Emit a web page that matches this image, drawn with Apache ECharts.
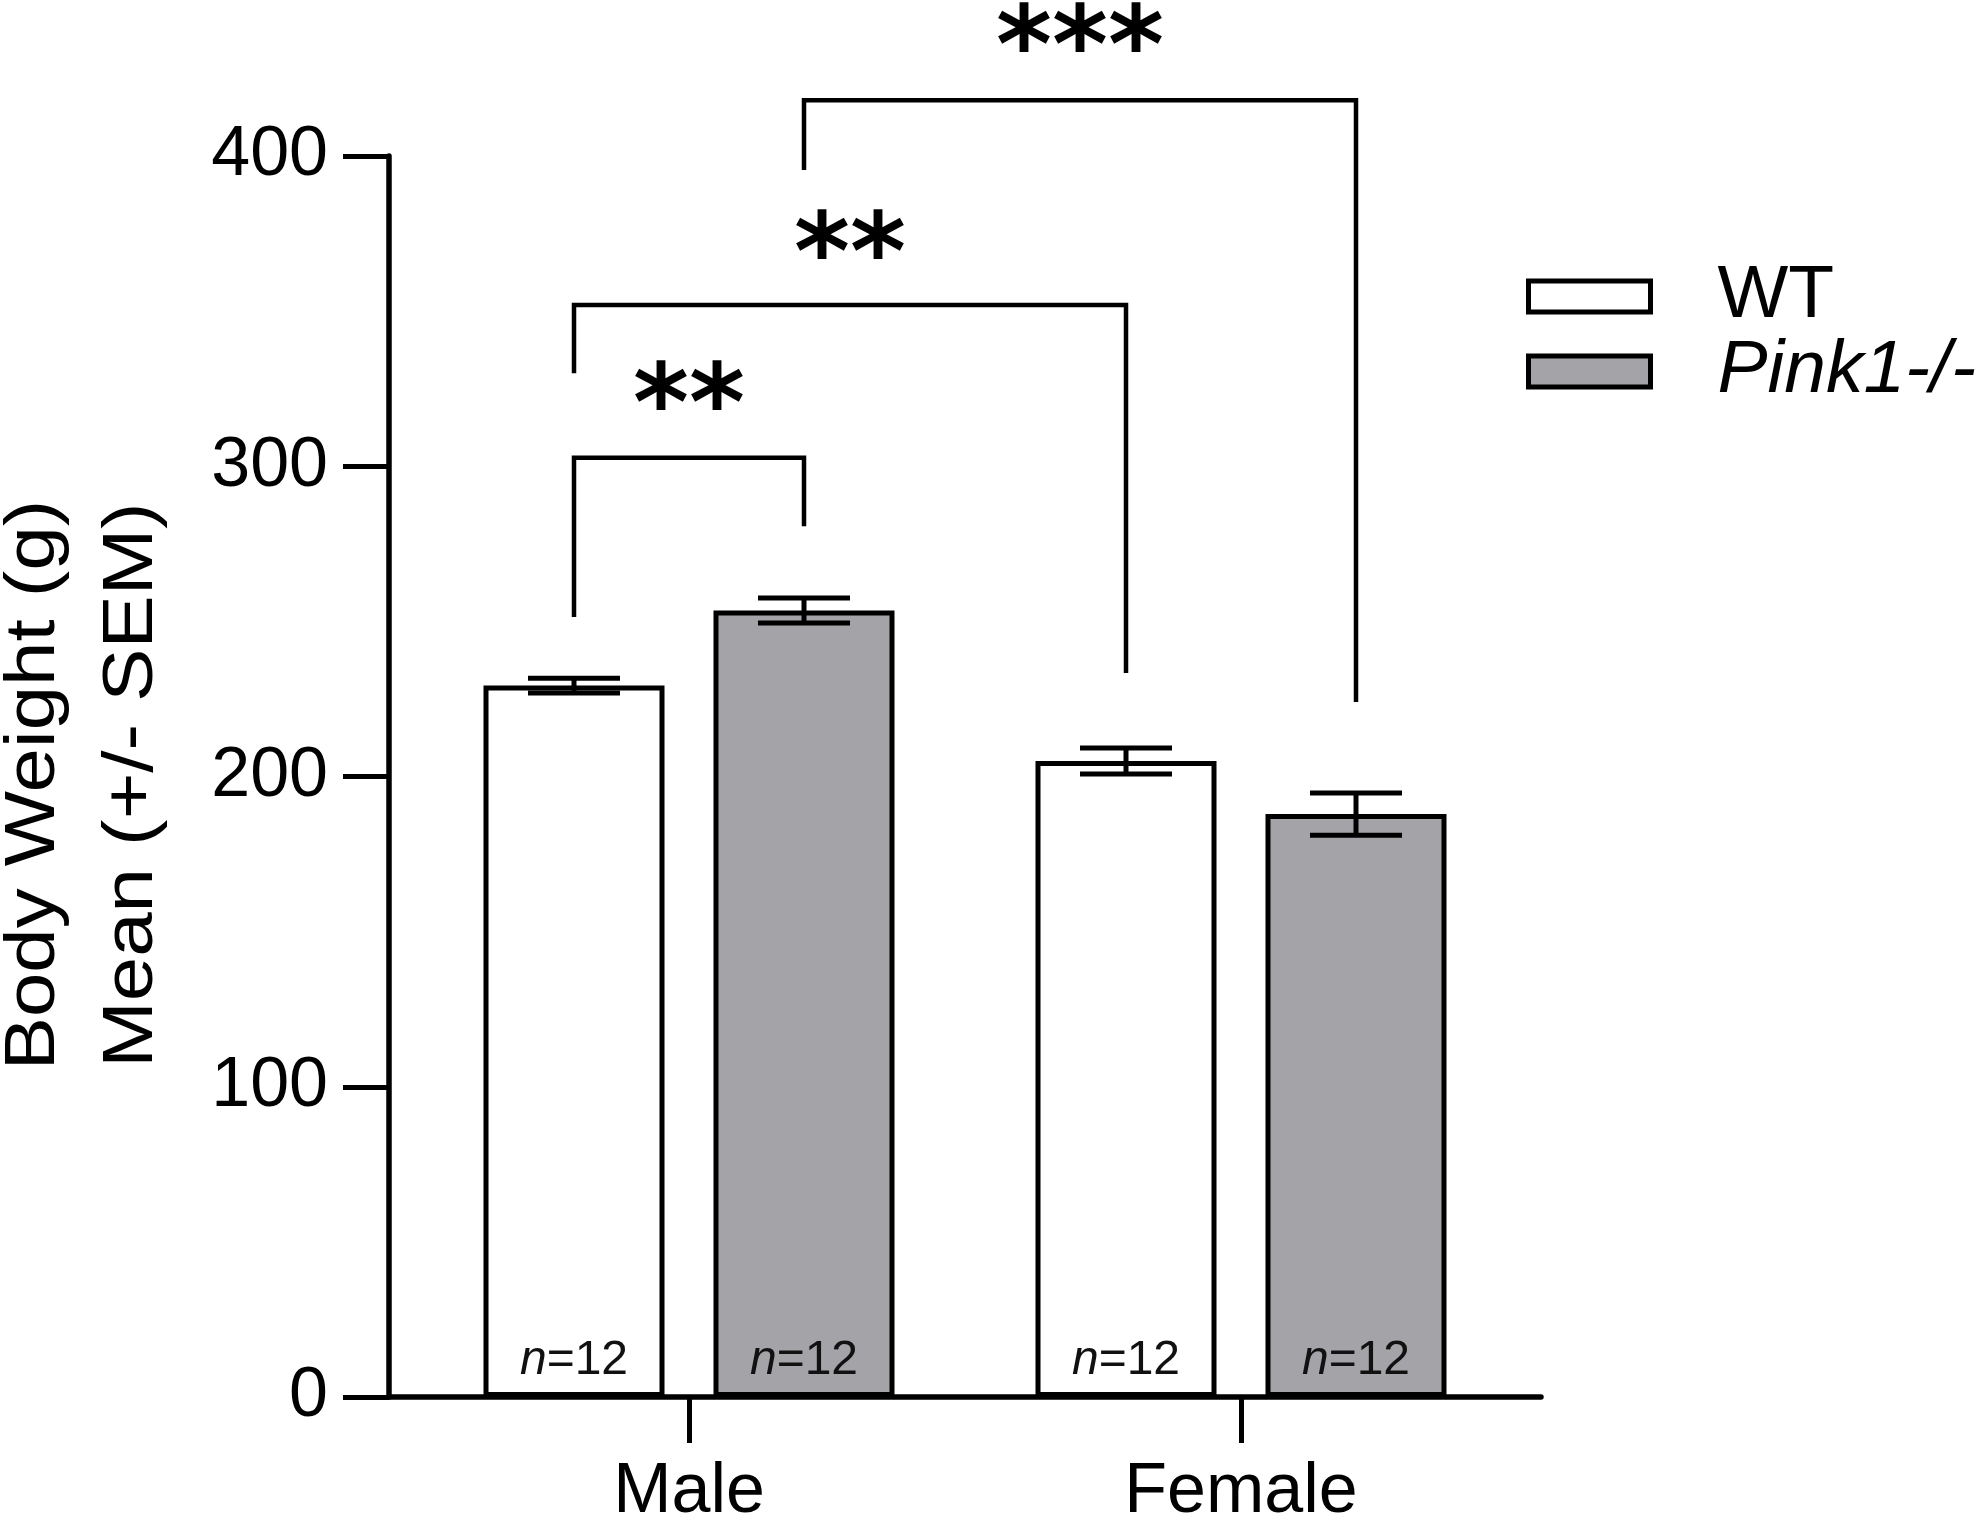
<!DOCTYPE html>
<html>
<head>
<meta charset="utf-8">
<script src="https://cdn.jsdelivr.net/npm/echarts@6/dist/echarts.min.js"></script>
<style>
html,body{margin:0;padding:0;background:#fff;}
#chart{width:1983px;height:1525px;}
</style>
</head>
<body>
<div id="chart"></div>
<script>
// ---- data ----
const categories = ['Male', 'Female'];
const seriesNames = ['WT', 'Pink1-/-'];
const wtMean = [229.3, 205.0];
const wtSem = [2.4, 4.2];
const pinkMean = [253.5, 187.9];
const pinkSem = [4.0, 6.8];
const nCounts = [[12, 12], [12, 12]];
const yMin = 0, yMax = 400, yInterval = 100;
// significance brackets: from/to = [categoryIndex, seriesIndex]; levels in axis units
const bracketFrom = [[0, 0], [0, 0], [0, 1]];
const bracketTo = [[0, 1], [1, 0], [1, 1]];
const bracketTop = [302.7, 352, 418];
const bracketLeftEnd = [251.4, 330, 395.5];
const bracketRightEnd = [280.7, 233.4, 224];
const bracketStars = ['**', '**', '***'];
const bracketStarLevel = [326.2, 374.9, 441.6];

// ---- style constants ----
const FONT = 'Liberation Sans, Arial, sans-serif';
const BAR_W = 181, BAR_GAP = 49;
const OFFS = [-(BAR_W + BAR_GAP) / 2, (BAR_W + BAR_GAP) / 2];
const CAP_W = 92;
const STAR_FS = 107;
const STAR_DY = 27;

const chart = echarts.init(document.getElementById('chart'), null, {renderer: 'canvas'});

const errData = [];
[[wtMean, wtSem], [pinkMean, pinkSem]].forEach((pair, s) => {
  pair[0].forEach((m, c) => errData.push([c, m, pair[1][c], s]));
});

const bracketData = bracketTop.map((t, i) => [i, t]);

const nLabel = s => ({
  show: true, position: 'insideBottom', distance: 12,
  formatter: p => '{i|n}{r|=' + nCounts[s][p.dataIndex] + '}',
  rich: {i: {fontSize: 48, fontFamily: FONT, fontStyle: 'italic', color: '#111'},
         r: {fontSize: 48, fontFamily: FONT, color: '#111'}}
});

const option = {
  backgroundColor: '#fff',
  animation: false,
  grid: [
    {left: 389, top: 156, width: 1152, height: 1241, containLabel: false, outerBoundsMode: 'none'},
    {left: 413, top: 156, width: 1104, height: 1241, containLabel: false, outerBoundsMode: 'none'}
  ],
  xAxis: [
    {gridIndex: 0, type: 'value', min: 0, max: 1, axisLine: {show: true, lineStyle: {color: '#000', width: 5.5}},
     axisTick: {show: false}, axisLabel: {show: false}, splitLine: {show: false}},
    {gridIndex: 1, type: 'category', data: categories, axisLine: {show: false},
     axisTick: {show: true, alignWithLabel: true, length: 46, lineStyle: {color: '#000', width: 5}},
     axisLabel: {color: '#000', fontSize: 70, fontFamily: FONT, margin: 61},
     splitLine: {show: false}}
  ],
  yAxis: [
    {gridIndex: 0, type: 'value', min: yMin, max: yMax, interval: yInterval,
     axisLine: {show: true, lineStyle: {color: '#000', width: 5.5}},
     axisTick: {show: true, length: 46, lineStyle: {color: '#000', width: 5}},
     axisLabel: {color: '#000', fontSize: 70, fontFamily: FONT, margin: 61},
     splitLine: {show: false}},
    {gridIndex: 1, type: 'value', min: yMin, max: yMax, show: false, splitLine: {show: false}}
  ],
  legend: {
    orient: 'vertical', left: 1521, top: 254, itemWidth: 122, itemHeight: 31, itemGap: 0,
    selectedMode: false, icon: 'rect',
    itemStyle: {borderColor: '#000', borderWidth: 5},
    data: seriesNames,
    formatter: name => name === 'WT' ? '{n|' + name + '}' : '{i|' + name + '}',
    textStyle: {
      padding: [0, 0, 0, 62],
      rich: {
        n: {fontSize: 75, fontFamily: FONT, color: '#000', lineHeight: 79},
        i: {fontSize: 75, fontFamily: FONT, color: '#000', fontStyle: 'italic', lineHeight: 79}
      }
    }
  },
  graphic: [{
    type: 'text', x: 84, y: 785, rotation: Math.PI / 2, scaleX: 1.14,
    style: {text: 'Body Weight (g)\nMean (+/- SEM)', font: '70px ' + FONT, fill: '#000',
      align: 'center', verticalAlign: 'middle', lineHeight: 98}
  }],
  series: [
    {
      name: seriesNames[0], type: 'bar', xAxisIndex: 1, yAxisIndex: 1, data: wtMean,
      barWidth: BAR_W, barGap: (BAR_GAP / BAR_W * 100).toFixed(2) + '%',
      itemStyle: {color: '#ffffff', borderColor: '#000', borderWidth: 5},
      label: nLabel(0)
    },
    {
      name: seriesNames[1], type: 'bar', xAxisIndex: 1, yAxisIndex: 1, data: pinkMean,
      barWidth: BAR_W,
      itemStyle: {color: '#a4a4a8', borderColor: '#000', borderWidth: 5},
      label: nLabel(1)
    },
    {
      type: 'custom', xAxisIndex: 1, yAxisIndex: 1, z: 5, data: errData,
      encode: {x: 0, y: 1}, clip: false,
      renderItem: (params, api) => {
        const c = api.value(0), m = api.value(1), e = api.value(2), s = api.value(3);
        const x = api.coord([c, m])[0] + OFFS[s];
        const yHi = api.coord([c, m + e])[1];
        const yLo = api.coord([c, m - e])[1];
        const st = {stroke: '#000', lineWidth: 5};
        return {type: 'group', children: [
          {type: 'line', shape: {x1: x, y1: yHi, x2: x, y2: yLo}, style: st},
          {type: 'line', shape: {x1: x - CAP_W / 2, y1: yHi, x2: x + CAP_W / 2, y2: yHi}, style: st},
          {type: 'line', shape: {x1: x - CAP_W / 2, y1: yLo, x2: x + CAP_W / 2, y2: yLo}, style: st}
        ]};
      }
    },
    {
      type: 'custom', xAxisIndex: 1, yAxisIndex: 1, z: 5, data: bracketData,
      encode: {x: 0, y: 1}, clip: false,
      renderItem: (params, api) => {
        const i = params.dataIndex;
        const f = bracketFrom[i], t = bracketTo[i];
        const x1 = api.coord([f[0], 0])[0] + OFFS[f[1]];
        const x2 = api.coord([t[0], 0])[0] + OFFS[t[1]];
        const yT = api.coord([0, bracketTop[i]])[1];
        const yL = api.coord([0, bracketLeftEnd[i]])[1];
        const yR = api.coord([0, bracketRightEnd[i]])[1];
        const yS = api.coord([0, bracketStarLevel[i]])[1];
        return {type: 'group', children: [
          {type: 'polyline', shape: {points: [[x1, yL], [x1, yT], [x2, yT], [x2, yR]]},
           style: {stroke: '#000', lineWidth: 4.5, fill: null, lineJoin: 'miter'}},
          {type: 'text', x: (x1 + x2) / 2, y: yS + STAR_DY,
           style: {text: bracketStars[i], font: 'bold ' + STAR_FS + 'px DejaVu Sans', fill: '#000',
             align: 'center', verticalAlign: 'middle'}}
        ]};
      }
    }
  ]
};
chart.setOption(option);
</script>
</body>
</html>
